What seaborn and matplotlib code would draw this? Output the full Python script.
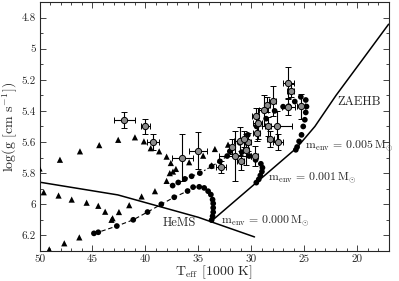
import numpy as np
import pandas as pd
import matplotlib
matplotlib.use("Agg")
import matplotlib.pyplot as plt
import seaborn as sns
from matplotlib.ticker import MultipleLocator, FuncFormatter

# ZAEHB and HeMS reference lines (Teff in 1000 K, log g)
zaehb_t = [33.76, 29.53, 25.74, 24.0, 22.0, 19.5, 17.04]
zaehb_g = [6.108, 5.861, 5.639, 5.50, 5.30, 5.07, 4.843]
hems_t = [50.0, 42.6, 35.0, 29.7]
hems_g = [5.858, 5.94, 6.084, 6.21]

# evolutionary tracks (black dots)
trk0_t = [33.75, 33.66, 33.6, 33.6, 33.6, 33.66, 33.82, 34.08, 34.45, 34.92, 35.5,
          36.02, 37.28, 38.5, 39.8, 41.15, 42.7, 44.45, 44.86]
trk0_g = [6.102, 6.077, 6.051, 6.023, 5.995, 5.97, 5.938, 5.916, 5.895, 5.888, 5.89,
          5.915, 5.955, 6.0, 6.05, 6.10, 6.14, 6.18, 6.187]
trk1_t = [29.53, 29.3, 29.15, 29.0, 28.95, 29.1, 29.6, 30.2, 30.9]
trk1_g = [5.861, 5.84, 5.815, 5.79, 5.765, 5.74, 5.715, 5.69, 5.665]
trk5_t = [25.8, 25.68, 25.49, 25.26, 25.1, 24.95, 24.86, 24.79, 24.86, 25.33, 25.9,
          26.47, 27.0, 27.8, 28.6, 29.5, 30.33, 31.1, 32.03, 32.28, 32.97, 33.75,
          34.86, 35.64, 36.27, 36.9, 37.43]
trk5_g = [5.65, 5.632, 5.596, 5.554, 5.50, 5.457, 5.41, 5.372, 5.33, 5.31, 5.34,
          5.37, 5.373, 5.40, 5.45, 5.50, 5.554, 5.605, 5.66, 5.69, 5.724, 5.756,
          5.80, 5.82, 5.837, 5.86, 5.88]

# triangles
tri_t = [50.0, 49.6, 48.07, 47.66, 48.2, 46.96, 46.18, 46.24, 45.55, 44.36, 44.45,
         43.8, 43.2, 43.1, 42.57, 42.5, 41.53, 40.99, 40.36, 40.14, 39.5, 39.1, 38.7,
         49.08, 38.0, 37.6, 37.12, 35.87, 34.55, 33.44, 32.2, 37.4, 37.7, 38.0, 33.75]
tri_g = [5.77, 5.923, 5.714, 6.251, 5.944, 5.97, 5.66, 6.213, 5.99, 5.62, 6.01,
         6.048, 6.10, 6.09, 5.586, 6.05, 6.006, 5.57, 5.95, 5.596, 5.64, 5.916, 5.66,
         6.29, 5.694, 5.735, 5.773, 5.73, 5.688, 5.645, 5.617, 5.79, 5.80, 5.85, 5.75]

# observed stars with error bars
obs_t = [42.0, 40.0, 39.3, 36.5, 35.05, 32.85, 31.55, 29.7, 26.5, 26.3, 28.0, 28.5,
         28.85, 29.6, 27.6, 28.45, 29.4, 29.5, 31.1, 30.3, 27.5, 26.5, 25.3, 30.7,
         31.8, 30.5, 31.0, 28.2]
obs_g = [5.46, 5.50, 5.60, 5.70, 5.655, 5.76, 5.69, 5.69, 5.22, 5.27, 5.335, 5.36,
         5.395, 5.43, 5.50, 5.50, 5.48, 5.545, 5.595, 5.60, 5.60, 5.375, 5.37, 5.58,
         5.63, 5.65, 5.72, 5.58]
obs_xe = [1.0, 0.45, 0.55, 1.0, 0.85, 0.45, 1.5, 0.3, 0.55, 0.35, 0.35, 0.3, 0.4,
          0.3, 1.4, 0.3, 0.4, 0.3, 0.5, 0.3, 0.5, 0.6, 0.4, 0.4, 0.3, 0.3, 0.35, 0.3]
obs_ge = [0.05, 0.05, 0.05, 0.15, 0.12, 0.04, 0.16, 0.065, 0.10, 0.04, 0.095, 0.05,
          0.10, 0.05, 0.10, 0.06, 0.10, 0.05, 0.09, 0.06, 0.05, 0.05, 0.08, 0.05,
          0.05, 0.10, 0.06, 0.05]

sns.set_style("ticks")
plt.rcParams["font.family"] = ["cmr10", "DejaVu Serif"]
plt.rcParams["mathtext.fontset"] = "cm"
plt.rcParams["axes.formatter.use_mathtext"] = True

fig = plt.figure(figsize=(3.99, 2.81), dpi=100)
ax = fig.add_axes([0.099, 0.107, 0.876, 0.886])

sns.lineplot(x=zaehb_t, y=zaehb_g, sort=False, color="black", lw=1.1, ax=ax)
sns.lineplot(x=hems_t, y=hems_g, sort=False, color="black", lw=1.1, ax=ax)

ax.plot(trk0_t, trk0_g, ls=(0, (4, 2.5)), color="black", lw=0.8)
ax.plot(trk5_t[18:], trk5_g[18:], ls=(0, (1.5, 2)), color="black", lw=0.8)

trk = pd.DataFrame({"t": trk0_t + trk1_t + trk5_t, "g": trk0_g + trk1_g + trk5_g})
sns.scatterplot(data=trk, x="t", y="g", marker="o", color="black", s=17,
                edgecolor="none", ax=ax, zorder=3)
sns.scatterplot(x=tri_t, y=tri_g, marker="^", color="black", s=20,
                edgecolor="none", ax=ax, zorder=3)

ax.errorbar(obs_t, obs_g, xerr=obs_xe, yerr=obs_ge, fmt="o", ms=4.5,
            mfc="#8a8a8a", mec="black", mew=0.7, ecolor="black", elinewidth=0.8,
            capsize=2, capthick=0.8, zorder=4)

ax.set_xlim(50, 17)
ax.set_ylim(6.3, 4.7)
ax.xaxis.set_major_locator(MultipleLocator(5))
ax.xaxis.set_minor_locator(MultipleLocator(1))
ax.yaxis.set_major_locator(MultipleLocator(0.2))
ax.yaxis.set_minor_locator(MultipleLocator(0.1))
ax.yaxis.set_major_formatter(FuncFormatter(lambda v, p: f"{v:g}"))
ax.xaxis.set_major_formatter(FuncFormatter(lambda v, p: f"{v:g}"))
ax.tick_params(which="both", direction="in", top=True, right=True, labelsize=8,
               width=0.6, pad=2.5)
ax.tick_params(which="major", length=4)
ax.tick_params(which="minor", length=2)
for s in ax.spines.values():
    s.set_linewidth(0.8)

ax.set_xlabel(r"T$_{\rm eff}$ [1000 K]", fontsize=10, labelpad=0)
ax.set_ylabel(r"log(g [cm s$^{-1}$])", fontsize=10, labelpad=1)

ax.text(19.8, 5.34, "ZAEHB", fontsize=9, ha="center", va="center")
ax.text(36.8, 6.12, "HeMS", fontsize=9, ha="center", va="center")
ax.text(32.9, 6.105, r"m$_{\rm env}$ = 0.000$\,$M$_{\odot}$", fontsize=8.5,
        ha="left", va="center")
ax.text(28.4, 5.83, r"m$_{\rm env}$ = 0.001$\,$M$_{\odot}$", fontsize=8.5,
        ha="left", va="center")
ax.text(24.9, 5.625, r"m$_{\rm env}$ = 0.005$\,$M$_{\odot}$", fontsize=8.5,
        ha="left", va="center", clip_on=False)

fig.savefig("out.png", dpi=100)
